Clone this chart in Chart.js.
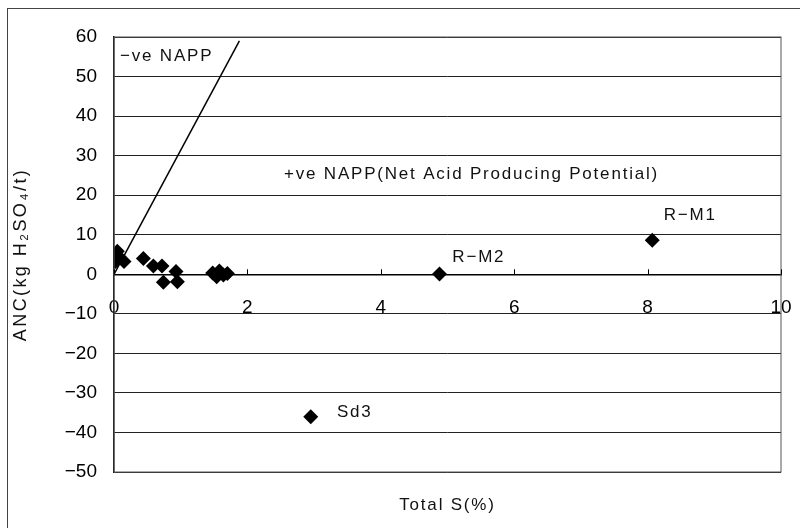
<!DOCTYPE html>
<html>
<head>
<meta charset="utf-8">
<script src="https://cdn.jsdelivr.net/npm/chart.js@4.4.0/dist/chart.umd.min.js"></script>
<style>
  html, body { margin: 0; padding: 0; background: #fff; overflow: hidden; }
  #wrap { position: relative; width: 800px; height: 528px; }
  #frame { position: absolute; left: 7px; top: 8px; width: 900px; height: 700px; border: 1px solid #444; pointer-events: none; }
</style>
</head>
<body>
<div id="wrap">
  <canvas id="chart" width="800" height="528"></canvas>
  <div id="frame"></div>
</div>
<script>
// samples: total sulphur (%) against ANC (kg H2SO4/t)
const totalS = [0.05, 0.02, 0.08, 0.15, 0.44, 0.59, 0.72, 0.74, 0.93, 0.95, 1.48, 1.54, 1.58, 1.64, 1.70, 2.95, 4.88, 8.07];
const ancVal = [5.8, 3.2, 4.3, 3.2, 4.0, 2.1, 2.1, -2.0, 0.7, -1.9, 0.3, -0.6, 0.8, -0.2, 0.2, -36.0, 0.1, 8.6];

// NAPP = 0 boundary line
const lineS = [0, 1.88];
const lineAnc = [0, 59];

const xTicks = [0, 2, 4, 6, 8, 10];
const yTicks = [-50, -40, -30, -20, -10, 0, 10, 20, 30, 40, 50, 60];

// text notes placed in data coordinates
const notes = [
  { text: "\u2212ve NAPP", x: 0.09, y: 55, align: "left" },
  { text: "+ve NAPP(Net Acid Producing Potential)", x: 5.36, y: 25.3, align: "center" },
  { text: "R\u2212M1", x: 8.64, y: 14.9, align: "center" },
  { text: "R\u2212M2", x: 5.47, y: 4.2, align: "center" },
  { text: "Sd3", x: 3.61, y: -34.8, align: "center" }
];

const FONT = "'Liberation Sans', Arial, sans-serif";
const minus = v => String(v).replace("-", "\u2212");

const notesPlugin = {
  id: "notes",
  afterDatasetsDraw(chart) {
    const ctx = chart.ctx;
    const xs = chart.scales.x, ys = chart.scales.y;
    const area = chart.chartArea;
    ctx.save();
    // plot area frame
    ctx.strokeStyle = "#555";
    ctx.lineWidth = 1;
    ctx.strokeRect(area.left, area.top, area.right - area.left, area.bottom - area.top);

    // small inside tick marks on the x axis (Excel style)
    const y0 = ys.getPixelForValue(0);
    ctx.strokeStyle = "#000";
    ctx.beginPath();
    xTicks.forEach(v => {
      const px = Math.round(xs.getPixelForValue(v)) + 0.5;
      ctx.moveTo(px, y0);
      ctx.lineTo(px, y0 - 5);
    });
    ctx.stroke();

    ctx.fillStyle = "#111";
    ctx.font = "17px " + FONT;
    ctx.letterSpacing = "1.8px";
    ctx.textBaseline = "middle";
    notes.forEach(n => {
      ctx.textAlign = n.align;
      ctx.fillText(n.text, xs.getPixelForValue(n.x), ys.getPixelForValue(n.y));
    });
    // x axis title
    ctx.textAlign = "center";
    ctx.fillText("Total S(%)", (area.left + area.right) / 2, area.bottom + 33);
    // y axis title
    ctx.font = "18px " + FONT;
    ctx.letterSpacing = "2.4px";
    ctx.translate(21, (area.top + area.bottom) / 2);
    ctx.rotate(-Math.PI / 2);
    ctx.fillText("ANC(kg H\u2082SO\u2084/t)", 0, 0);
    ctx.restore();
  }
};

new Chart(document.getElementById("chart"), {
  type: "scatter",
  data: {
    datasets: [
      {
        label: "samples",
        data: totalS.map((s, i) => ({ x: s, y: ancVal[i] })),
        pointStyle: "rectRot",
        pointRadius: 7.5,
        backgroundColor: "#000",
        borderColor: "#000",
        borderWidth: 0
      },
      {
        type: "line",
        label: "NAPP = 0",
        data: lineS.map((s, i) => ({ x: s, y: lineAnc[i] })),
        borderColor: "#000",
        borderWidth: 1.5,
        pointRadius: 0,
        fill: false
      }
    ]
  },
  options: {
    responsive: false,
    animation: false,
    layout: { autoPadding: false, padding: { top: 37, right: 19, bottom: 56, left: 0 } },
    plugins: { legend: { display: false }, tooltip: { enabled: false } },
    scales: {
      x: {
        type: "linear",
        position: { y: 0 },
        min: 0,
        max: 10,
        afterBuildTicks: s => { s.ticks = xTicks.map(v => ({ value: v })); },
        afterFit: s => { s.paddingLeft = 0; s.paddingRight = 0; },
        grid: { drawOnChartArea: false, drawTicks: false },
        border: { display: true, color: "#000", width: 1.5 },
        ticks: { color: "#000", padding: 22, font: { size: 19, family: FONT } }
      },
      y: {
        type: "linear",
        min: -50,
        max: 60,
        afterBuildTicks: s => { s.ticks = yTicks.map(v => ({ value: v })); },
        afterFit: s => { s.width = 114; s.paddingTop = 0; s.paddingBottom = 0; },
        grid: { color: "#222", lineWidth: 1, drawTicks: false },
        border: { display: true, color: "#000", width: 1.5 },
        ticks: { color: "#000", padding: 17, font: { size: 19, family: FONT }, callback: v => minus(v) }
      }
    }
  },
  plugins: [notesPlugin]
});
</script>
</body>
</html>
